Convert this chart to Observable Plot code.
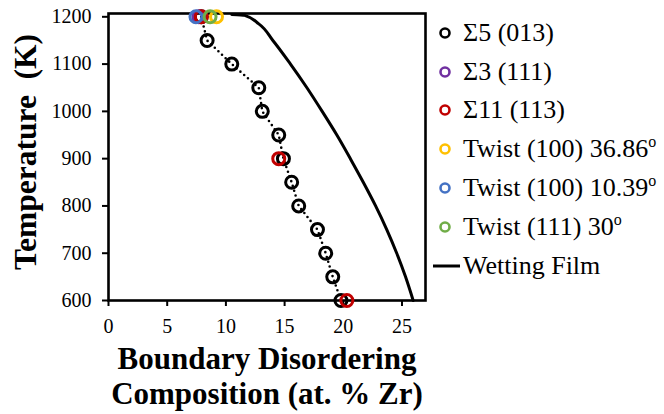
<!DOCTYPE html>
<html><head><meta charset="utf-8">
<script src="https://cdn.jsdelivr.net/npm/d3@7"></script>
<script src="https://cdn.jsdelivr.net/npm/@observablehq/plot@0.6"></script>
<style>
body{margin:0;background:#fff;}
#wrap{position:relative;width:664px;height:414px;font-family:"Liberation Serif",serif;color:#000;}
#chart{position:absolute;left:0;top:0;}
#legend{position:absolute;left:430px;top:0;width:234px;height:414px;}
.row{position:absolute;left:0;white-space:nowrap;font-size:26px;line-height:1;display:flex;align-items:center;height:30px;}
.row svg{flex:none;}
.row span{margin-left:3px;}
.row sup{font-size:16px;vertical-align:10px;line-height:0;}
</style></head><body>
<div id="wrap"><div id="chart"></div><div id="legend"></div></div>
<script>
// Σ5 (013)
const sigma5Comp = [7.9, 8.4, 10.5, 12.8, 13.1, 14.5, 14.9, 15.6, 16.2, 17.8, 18.5, 19.1, 19.8];
const sigma5Temp = [1200, 1150, 1100, 1050, 1000, 950, 900, 850, 800, 750, 700, 650, 600];
// Σ3 (111)
const sigma3Comp = [7.7];
const sigma3Temp = [1200];
// Σ11 (113)
const sigma11Comp = [7.9, 14.5, 20.3];
const sigma11Temp = [1200, 900, 600];
// Twist (100) 36.86
const twist3686Comp = [9.2];
const twist3686Temp = [1200];
// Twist (100) 10.39
const twist1039Comp = [7.45];
const twist1039Temp = [1200];
// Twist (111) 30
const twist30Comp = [8.65];
const twist30Temp = [1200];
// Wetting film
const filmComp = [10.5, 11.6, 12.8, 14.0, 15.5, 16.9, 18.2, 19.45, 20.6, 21.7, 22.75, 23.7, 24.55, 25.3, 25.95];
const filmTemp = [1205, 1203, 1185, 1150, 1100, 1050, 1000, 950, 900, 850, 800, 750, 700, 650, 600];

const xTicks = [0, 5, 10, 15, 20, 25];
const yTicks = [600, 700, 800, 900, 1000, 1100, 1200];

const seriesNames = ["Σ5 (013)", "Σ3 (111)", "Σ11 (113)", "Twist (100) 36.86", "Twist (100) 10.39", "Twist (111) 30"];
const seriesSup = ["", "", "", "o", "o", "o"];
const seriesColors = ["#000000", "#7030A0", "#C00000", "#FFC000", "#4472C4", "#70AD47"];
const filmName = "Wetting Film";

const xTitle = "Boundary Disordering\nComposition (at. % Zr)";
const yTitle = "Temperature  (K)";

const pts = (cx, ty, k) => cx.map((c, i) => ({c, t: ty[i], k}));
const seriesData = [
  pts(sigma5Comp, sigma5Temp, 0),
  pts(sigma3Comp, sigma3Temp, 1),
  pts(sigma11Comp, sigma11Temp, 2),
  pts(twist3686Comp, twist3686Temp, 3),
  pts(twist1039Comp, twist1039Temp, 4),
  pts(twist30Comp, twist30Temp, 5)
];
const film = pts(filmComp, filmTemp, -1);

const chart = Plot.plot({
  width: 430,
  height: 414,
  marginLeft: 108,
  marginRight: 5,
  marginTop: 13,
  marginBottom: 114,
  style: {fontFamily: "Liberation Serif, serif", fontSize: "20px", color: "#000", background: "transparent", overflow: "visible"},
  x: {domain: [0, 27]},
  y: {domain: [600, 1207]},
  marks: [
    Plot.axisX({ticks: xTicks, tickSize: 6, tickPadding: 12, tickFormat: d3.format("d"), label: null, strokeWidth: 2, fontSize: 20}),
    Plot.axisY({ticks: yTicks, tickSize: 6, tickPadding: 11, tickFormat: d3.format("d"), label: null, strokeWidth: 2, fontSize: 20}),
    Plot.frame({stroke: "#000", strokeWidth: 2.6}),
    Plot.line(film, {x: "c", y: "t", curve: "monotone-y", stroke: "#000", strokeWidth: 3}),
    Plot.line(seriesData[0], {x: "c", y: "t", stroke: "#000", strokeWidth: 2.6, strokeDasharray: "0 5", strokeLinecap: "round"}),
    ...seriesData.map((d, k) => Plot.dot(d, {x: "c", y: "t", r: 6, stroke: seriesColors[k], strokeWidth: 3, fill: "none"})),
    Plot.text([yTitle], {frameAnchor: "left", textAnchor: "middle", dx: -83, dy: -5, rotate: -90, fontSize: 31.5, fontWeight: "bold", fill: "#000"}),
    Plot.text([xTitle], {frameAnchor: "bottom", lineAnchor: "top", dy: 44, lineHeight: 1.13, fontSize: 31, fontWeight: "bold", fill: "#000"})
  ]
});
document.getElementById("chart").appendChild(chart);

// Legend
const legend = d3.select("#legend");
const rowY = [33, 72, 110, 149, 188, 227, 266];
seriesNames.forEach((name, i) => {
  const row = legend.append("div").attr("class", "row").style("top", (rowY[i] - 15) + "px");
  const svg = row.append("svg").attr("width", 30).attr("height", 30);
  svg.append("circle").attr("cx", 15).attr("cy", 15).attr("r", 4.5)
    .attr("fill", "none").attr("stroke", seriesColors[i]).attr("stroke-width", 2.6);
  const span = row.append("span").text(name);
  if (seriesSup[i]) span.append("sup").text(seriesSup[i]);
});
{
  const row = legend.append("div").attr("class", "row").style("top", (rowY[6] - 15) + "px");
  const svg = row.append("svg").attr("width", 30).attr("height", 30);
  svg.append("line").attr("x1", 3).attr("x2", 32).attr("y1", 15).attr("y2", 15)
    .attr("stroke", "#000").attr("stroke-width", 3);
  row.append("span").text(filmName);
}
</script>
</body></html>
